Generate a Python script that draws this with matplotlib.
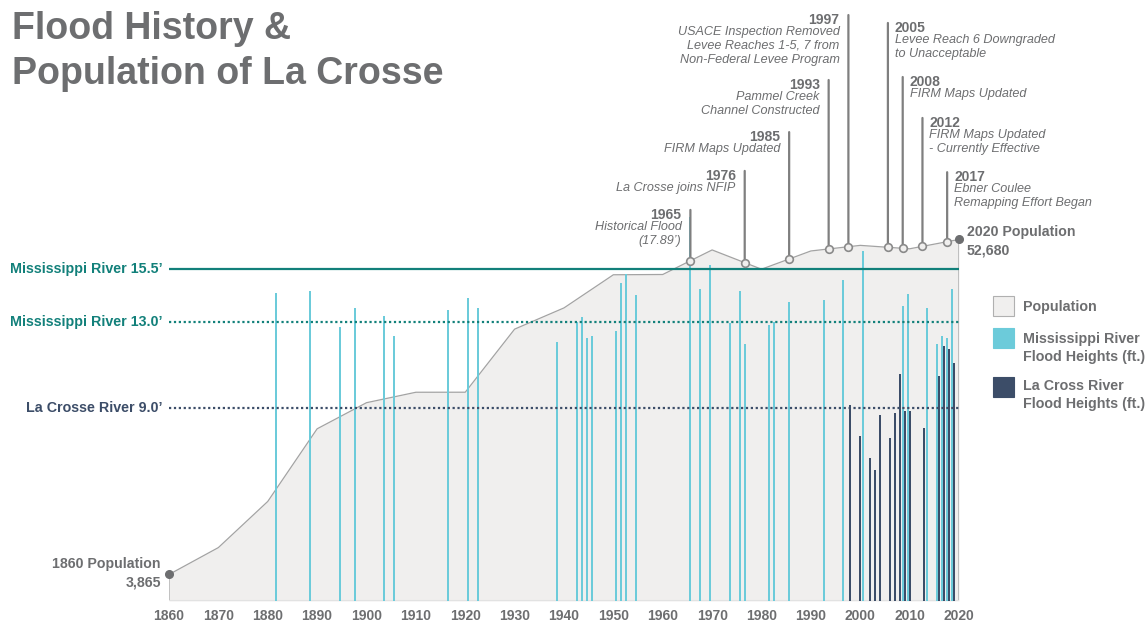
import numpy as np
import matplotlib
matplotlib.use("Agg")
import matplotlib.pyplot as plt
from matplotlib.patches import Rectangle

plt.rcParams['font.family'] = ['Liberation Sans', 'DejaVu Sans']

# population (census)
census_years = [1860, 1870, 1880, 1890, 1900, 1910, 1920, 1930, 1940,
                1950, 1960, 1970, 1980, 1990, 2000, 2010, 2020]
population = [3865, 7785, 14505, 25090, 28895, 30417, 30421, 39614, 42707,
              47535, 47575, 51153, 48347, 51003, 51818, 51320, 52680]

# Mississippi river crests (ft)
miss_years = [1881, 1888, 1894, 1897, 1903, 1905, 1916, 1920, 1922, 1938,
              1942, 1943, 1944, 1945, 1950, 1951, 1952, 1954, 1965, 1967,
              1969, 1973, 1975, 1976, 1981, 1982, 1985, 1992, 1996, 2000,
              2008, 2009, 2013, 2015, 2016, 2017, 2018]
miss_heights = [14.35, 14.44, 12.77, 13.65, 13.28, 12.38, 13.56, 14.15, 13.65, 12.07,
                13.03, 13.26, 12.27, 12.36, 12.58, 14.85, 15.24, 14.26, 17.89, 14.54,
                15.67, 12.98, 14.46, 11.97, 12.87, 13.03, 13.95, 14.04, 14.96, 16.34,
                13.76, 14.30, 13.65, 11.97, 12.36, 12.28, 14.54]

# La Crosse river crests (ft)
lax_years = [1997, 1999, 2001, 2002, 2003, 2005, 2006, 2007, 2008, 2009,
             2012, 2015, 2016, 2017, 2018]
lax_heights = [9.14, 7.70, 6.69, 6.11, 8.68, 7.60, 8.75, 10.58, 8.88, 8.88,
               8.06, 10.48, 11.88, 11.77, 11.08]

# flood stages
stage_values = [15.5, 13.0, 9.0]
stage_labels = ["Mississippi River 15.5\u2019", "Mississippi River 13.0\u2019",
                "La Crosse River 9.0\u2019"]

# timeline events
event_years = [1965, 1976, 1985, 1993, 1997, 2005, 2008, 2012, 2017]
event_texts = ["Historical Flood\n(17.89\u2019)",
               "La Crosse joins NFIP",
               "FIRM Maps Updated",
               "Pammel Creek\nChannel Constructed",
               "USACE Inspection Removed\nLevee Reaches 1-5, 7 from\nNon-Federal Levee Program",
               "Levee Reach 6 Downgraded\nto Unacceptable",
               "FIRM Maps Updated",
               "FIRM Maps Updated\n- Currently Effective",
               "Ebner Coulee\nRemapping Effort Began"]
# where each label line stops (ft on the flood axis)
label_tops = [18.24, 20.06, 21.87, 24.30, 27.33, 26.96, 24.44, 22.53, 20.0]

CYAN = '#6CCBDA'
NAVY = '#3C4D68'
TEAL = '#12807A'
GRAY_TXT = '#6D6E70'
FILL = '#F0EFEE'

W, H = 1146, 622
fig = plt.figure(figsize=(W / 100, H / 100), dpi=100)

rect = [169 / W, 21 / H, 790 / W, 601 / H]
ax_pop = fig.add_axes(rect)
ax_pop.set_xlim(1860, 2020)
ax_pop.set_ylim(0, 601 / 6.863 * 1000)
ax = ax_pop.twinx()
ax.set_ylim(0, 601 / 21.44)

for a in (ax_pop, ax):
    for s in a.spines.values():
        s.set_visible(False)
    a.set_yticks([])
ax.patch.set_visible(False)

# population area
px = [census_years[0]] + census_years + [census_years[-1]]
py = [0] + population + [0]
ax_pop.fill_between(census_years, population, color=FILL, lw=0)
ax_pop.plot(px, py, color='#A3A3A3', lw=0.9)
ax_pop.axhline(0, color='#E2E2E2', lw=1.5)

# flood bars (cyan left, navy right inside each year slot)
ax.bar(np.array(miss_years) + 0.6, miss_heights, width=0.42, color=CYAN, zorder=2)
ax.bar(np.array(lax_years) + 1.0, lax_heights, width=0.42, color=NAVY, zorder=3)

# flood stage lines
ax.axhline(stage_values[0], color=TEAL, lw=1.6, zorder=4)
ax.axhline(stage_values[1], color=TEAL, lw=1.6, ls=(0, (1, 1.2)), zorder=4)
ax.axhline(stage_values[2], color=NAVY, lw=1.6, ls=(0, (1, 1.2)), zorder=4)
for val, lab, col in zip(stage_values, stage_labels, [TEAL, TEAL, NAVY]):
    ax.text(-0.008, val, lab, transform=ax.get_yaxis_transform(), ha='right',
            va='center', fontsize=10.3, fontweight='bold', color=col)

# events
for yr, txt, top in zip(event_years, event_texts, label_tops):
    x = yr + 0.6
    p = np.interp(x, census_years, population)
    ax.annotate('', xy=(x, p), xycoords=ax_pop.transData, xytext=(x, top),
                textcoords='data',
                arrowprops=dict(arrowstyle='-', color='#7F7F7F', lw=1.6,
                                shrinkA=0, shrinkB=0), zorder=5)
    ax.plot(x, p, 'o', ms=5.5, mfc=FILL, mec='#8A8A8A', mew=1.2,
            transform=ax_pop.transData, zorder=6, clip_on=False)
    if yr < 2000:
        dx, ha = -9, 'right'
    else:
        dx, ha = 7, 'left'
    ax.annotate(str(yr), xy=(x, top), xytext=(dx, -5), textcoords='offset pixels',
                ha=ha, va='center', fontsize=10, fontweight='bold', color=GRAY_TXT)
    ax.annotate(txt, xy=(x, top), xytext=(dx, -11), textcoords='offset pixels',
                ha=ha, va='top', fontsize=9.1, style='italic', color=GRAY_TXT,
                linespacing=1.2, multialignment=ha)

# population end points
ax_pop.plot([census_years[0], census_years[-1]], [population[0], population[-1]], 'o',
            ms=5.5, color='#6D6E70', clip_on=False, zorder=6)
ax_pop.annotate(f"1860 Population\n{population[0]:,}", xy=(census_years[0], population[0]),
                xytext=(-8, 1), textcoords='offset pixels', ha='right', va='center',
                fontsize=10.2, fontweight='bold', color=GRAY_TXT, linespacing=1.4)
ax_pop.annotate(f"2020 Population\n{population[-1]:,}", xy=(census_years[-1], population[-1]),
                xytext=(8, -2), textcoords='offset pixels', ha='left', va='center',
                fontsize=10.2, fontweight='bold', color=GRAY_TXT, linespacing=1.4)

# x axis
ax_pop.set_xticks(range(1860, 2021, 10))
ax_pop.tick_params(axis='x', length=0, pad=5.5, labelsize=10, labelcolor=GRAY_TXT)
for t in ax_pop.get_xticklabels():
    t.set_fontweight('bold')

# legend
leg = [(FILL, '#B0B0B0', 306, 306.5, "Population"),
       (CYAN, CYAN, 338, 348, "Mississippi River\nFlood Heights (ft.)"),
       (NAVY, NAVY, 387, 395, "La Cross River\nFlood Heights (ft.)")]
for face, edge, yc, ty, lab in leg:
    fig.patches.append(Rectangle((993 / W, 1 - (yc + 10) / H), 21 / W, 20 / H,
                                 transform=fig.transFigure, facecolor=face,
                                 edgecolor=edge, lw=0.8))
    fig.text(1023 / W, 1 - ty / H, lab, ha='left', va='center', fontsize=10.3,
             fontweight='bold', color=GRAY_TXT, linespacing=1.4)

# title
fig.text(12 / W, 1 - 11 / H, "Flood History &\nPopulation of La Crosse", ha='left',
         va='top', fontsize=27, fontweight='bold', color=GRAY_TXT, linespacing=1.33)

fig.savefig("out.png", dpi=100)
